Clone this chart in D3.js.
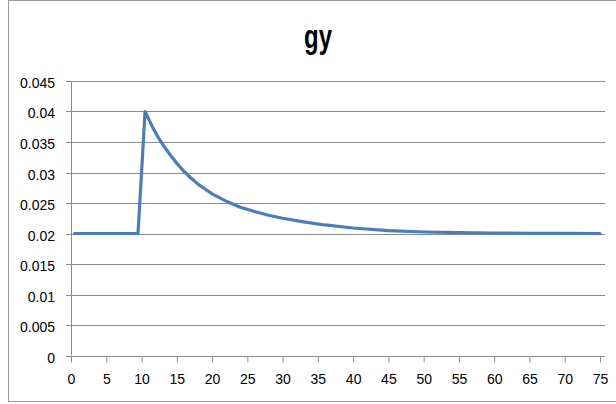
<!DOCTYPE html>
<html><head><meta charset="utf-8">
<script src="https://cdn.jsdelivr.net/npm/d3@7"></script>
<style>html,body{margin:0;padding:0;background:#fff;}svg{display:block;}</style>
</head><body>
<script>
const title = "gy";
const xTicks = [0,5,10,15,20,25,30,35,40,45,50,55,60,65,70,75];
const yTicks = [0,0.005,0.01,0.015,0.02,0.025,0.03,0.035,0.04,0.045];
const yTickLabels = ["0","0.005","0.01","0.015","0.02","0.025","0.03","0.035","0.04","0.045"];
const tValues = [0.5,9.5,10.5,11,11.5,12,12.5,13,14,15,16,17,18,19,20,22,24,26,28,30,33,36,40,45,50,55,60,65,70,75];
const gyValues = [0.0200,0.0200,0.0400,0.0388,0.0376,0.0365,0.0355,0.0346,0.0330,0.0315,0.0302,0.0291,0.0281,0.0273,0.0265,0.0253,0.0243,0.0236,0.0230,0.0225,0.0219,0.0214,0.0209,0.02048,0.02025,0.02013,0.02007,0.02003,0.02001,0.0200];

const W = 616, H = 404;
const svg = d3.select("body").append("svg").attr("width", W).attr("height", H);
const font = "'Liberation Sans', Arial, sans-serif";

// chart border
svg.append("rect").attr("x", 8.5).attr("y", 0.5).attr("width", 640).attr("height", 401)
  .attr("fill", "none").attr("stroke", "#9a9a9a").attr("stroke-width", 1);

const x = d3.scaleLinear().domain([0, 75]).range([71, 600]);
const y = d3.scaleLinear().domain([0, 0.045]).range([355.5, 81]);
const plotRight = 605;

// gridlines
svg.append("g").selectAll("line").data(yTicks.filter(d => d > 0)).join("line")
  .attr("x1", x(0)).attr("x2", plotRight)
  .attr("y1", d => Math.round(y(d)) + 0.5).attr("y2", d => Math.round(y(d)) + 0.5)
  .attr("stroke", "#8c8c8c").attr("stroke-width", 1);

// y axis
const yAxis = d3.axisLeft(y).tickValues(yTicks).tickSize(5).tickPadding(11)
  .tickFormat((d, i) => yTickLabels[i]);
const gy = svg.append("g").attr("transform", `translate(${x(0)},0)`).call(yAxis);
gy.select(".domain").remove();
gy.append("line").attr("x1", 0.5).attr("x2", 0.5).attr("y1", y(0.045)).attr("y2", y(0))
  .attr("stroke", "#8c8c8c");
gy.selectAll(".tick line").attr("stroke", "#8c8c8c");
gy.selectAll(".tick").attr("transform", d => `translate(0,${Math.round(y(d)) + 0.5})`);
gy.selectAll(".tick text").attr("font-family", font).attr("font-size", 14).attr("fill", "#000")
  .attr("dy", "0.45em");

// x axis
const xAxis = d3.axisBottom(x).tickValues(xTicks).tickSize(6).tickPadding(12);
const gx = svg.append("g").attr("transform", `translate(0,${Math.round(y(0)) + 0.5})`).call(xAxis);
gx.select(".domain").remove();
gx.append("line").attr("x1", x(0)).attr("x2", plotRight).attr("y1", 0).attr("y2", 0)
  .attr("stroke", "#8c8c8c");
gx.selectAll(".tick line").attr("stroke", "#8c8c8c");
gx.selectAll(".tick text").attr("font-family", font).attr("font-size", 14).attr("fill", "#000");

// line
const data = tValues.map((t, i) => ({t, v: gyValues[i]}));
svg.append("path").datum(data)
  .attr("d", d3.line().x(d => x(d.t)).y(d => y(d.v)))
  .attr("fill", "none").attr("stroke", "#4a7ebb").attr("stroke-width", 3.2)
  .attr("stroke-linejoin", "round").attr("stroke-linecap", "round");

// title
svg.append("text").attr("transform", "translate(318,47.5) scale(0.92,1.3)")
  .attr("text-anchor", "middle")
  .attr("font-family", font)
  .attr("font-weight", "bold").attr("font-size", 26).attr("fill", "#000").text(title);
</script>
</body></html>
